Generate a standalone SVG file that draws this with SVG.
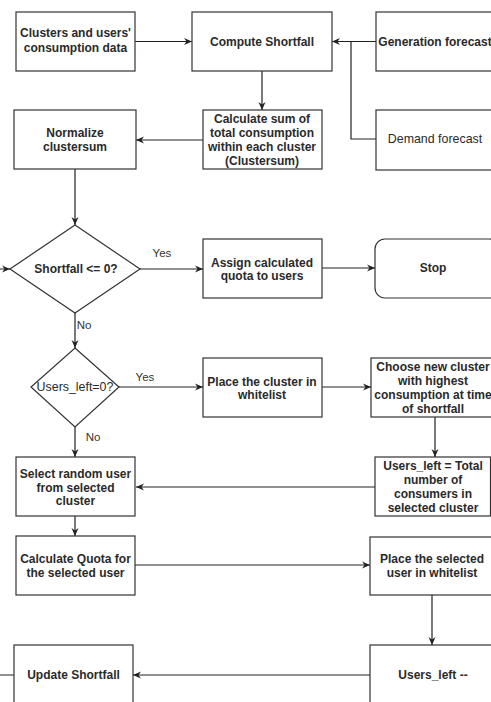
<svg xmlns="http://www.w3.org/2000/svg" width="491" height="702" viewBox="0 0 491 702">
<defs>
<marker id="arr" viewBox="0 0 8 8" markerWidth="8" markerHeight="8" refX="8" refY="4" orient="auto" markerUnits="userSpaceOnUse">
<path d="M0,0.5 L8,4 L0,7.5 L2.5,4 z" fill="#222"/>
</marker>
<style>
.box{fill:#fff;stroke:#333;stroke-width:1.2}
.t{font-family:"Liberation Sans",Arial,sans-serif;font-size:12px;font-weight:bold;fill:#2a2a2a;text-anchor:middle;dominant-baseline:central}
.r{font-weight:normal;font-size:12.4px}
.lbl{font-family:"Liberation Sans",Arial,sans-serif;font-size:11.5px;fill:#333;text-anchor:middle;dominant-baseline:central}
.c{fill:none;stroke:#222;stroke-width:1.2}
.ca{fill:none;stroke:#222;stroke-width:1.2;marker-end:url(#arr)}
</style>
</defs>
<rect width="491" height="702" fill="#fff"/>

<g id="connectors">
<path class="ca" d="M135,41.5 L192,41.5"/>
<path class="ca" d="M376,41.5 L332,41.5"/>
<path class="c" d="M376,139 L351,139 L351,41.5"/>
<path class="ca" d="M262,71 L262,110"/>
<path class="ca" d="M203,140 L136,140"/>
<path class="ca" d="M75,169 L75,225"/>
<path class="ca" d="M140,269 L203,269"/>
<path class="ca" d="M322,268 L375,268"/>
<path class="ca" d="M75,313 L75,348"/>
<path class="ca" d="M119,387 L203,387"/>
<path class="ca" d="M322,387 L371,387"/>
<path class="ca" d="M435,417 L435,457"/>
<path class="ca" d="M75,427 L75,457"/>
<path class="ca" d="M375,487 L136,487"/>
<path class="ca" d="M75,516 L75,536"/>
<path class="ca" d="M135,565 L370,565"/>
<path class="ca" d="M432,595 L432,645"/>
<path class="ca" d="M370,675 L133,675"/>
<path class="ca" d="M14,675 L-20,675 L-20,269 L10,269"/>
<text class="lbl" x="162" y="253">Yes</text>
<text class="lbl" x="84" y="325">No</text>
<text class="lbl" x="145" y="377">Yes</text>
<text class="lbl" x="93" y="437">No</text>
</g>

<g id="clusters-data">
<rect class="box" x="16" y="12" width="119" height="59"/>
<text class="t" x="75.5" y="33">Clusters and users'</text>
<text class="t" x="75.5" y="48">consumption data</text>
</g>

<g id="compute-shortfall">
<rect class="box" x="192" y="12" width="140" height="59"/>
<text class="t" x="262" y="41.5">Compute Shortfall</text>
</g>

<g id="generation-forecast">
<rect class="box" x="376" y="12" width="120" height="59"/>
<text class="t" x="435" y="41.5">Generation forecast</text>
</g>

<g id="demand-forecast">
<rect class="box" x="376" y="110" width="120" height="60"/>
<text class="t r" x="435" y="139">Demand forecast</text>
</g>

<g id="calculate-sum">
<rect class="box" x="203" y="110" width="119" height="59"/>
<text class="t" x="262" y="119">Calculate sum of</text>
<text class="t" x="262" y="133">total consumption</text>
<text class="t" x="262" y="147">within each cluster</text>
<text class="t" x="262" y="161">(Clustersum)</text>
</g>

<g id="normalize">
<rect class="box" x="14" y="110" width="122" height="59"/>
<text class="t" x="75" y="133">Normalize</text>
<text class="t" x="75" y="147">clustersum</text>
</g>

<g id="shortfall-decision">
<polygon class="box" points="75,225 140,269 75,313 10,269"/>
<text class="t" x="76" y="269">Shortfall &lt;= 0?</text>
</g>

<g id="assign-quota">
<rect class="box" x="203" y="239" width="119" height="59"/>
<text class="t" x="262" y="263">Assign calculated</text>
<text class="t" x="262" y="276">quota to users</text>
</g>

<g id="stop">
<rect class="box" x="375" y="239" width="124" height="59" rx="10" ry="10"/>
<text class="t" x="433" y="268">Stop</text>
</g>

<g id="users-left-decision">
<polygon class="box" points="75,348 119,387 75,427 31,387"/>
<text class="t r" x="75" y="387">Users_left=0?</text>
</g>

<g id="place-cluster">
<rect class="box" x="203" y="358" width="119" height="59"/>
<text class="t" x="262" y="382">Place the cluster in</text>
<text class="t" x="262" y="395">whitelist</text>
</g>

<g id="choose-cluster">
<rect class="box" x="371" y="358" width="124" height="59"/>
<text class="t" x="433" y="367">Choose new cluster</text>
<text class="t" x="433" y="381">with highest</text>
<text class="t" x="433" y="395">consumption at time</text>
<text class="t" x="433" y="409">of shortfall</text>
</g>

<g id="users-left-total">
<rect class="box" x="375" y="457" width="115.5" height="59"/>
<text class="t" x="433" y="466">Users_left = Total</text>
<text class="t" x="433" y="480">number of</text>
<text class="t" x="433" y="494">consumers in</text>
<text class="t" x="433" y="508">selected cluster</text>
</g>

<g id="select-user">
<rect class="box" x="16" y="457" width="119" height="59"/>
<text class="t" x="75.5" y="474">Select random user</text>
<text class="t" x="75.5" y="487.5">from selected</text>
<text class="t" x="75.5" y="501">cluster</text>
</g>

<g id="calculate-quota">
<rect class="box" x="16" y="536" width="119" height="59"/>
<text class="t" x="75.5" y="559">Calculate Quota for</text>
<text class="t" x="75.5" y="573">the selected user</text>
</g>

<g id="place-user">
<rect class="box" x="370" y="537" width="125" height="58"/>
<text class="t" x="432" y="559">Place the selected</text>
<text class="t" x="432" y="573">user in whitelist</text>
</g>

<g id="users-left-dec">
<rect class="box" x="370" y="645" width="125" height="70"/>
<text class="t" x="433" y="675">Users_left --</text>
</g>

<g id="update-shortfall">
<rect class="box" x="14" y="645" width="119" height="70"/>
<text class="t" x="73.5" y="675">Update Shortfall</text>
</g>
</svg>
